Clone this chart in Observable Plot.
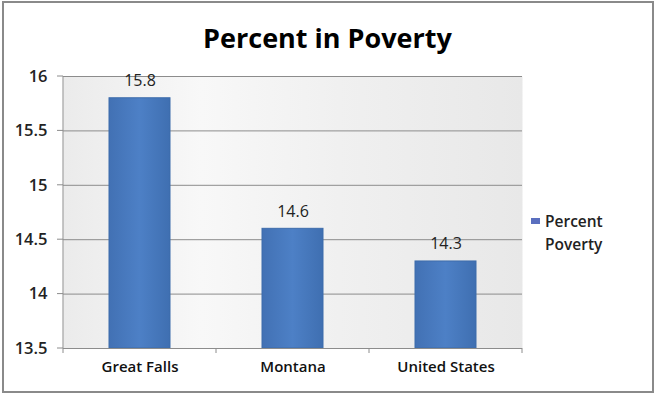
<!DOCTYPE html>
<html><head><meta charset="utf-8">
<script src="https://cdn.jsdelivr.net/npm/d3@7"></script>
<script src="https://cdn.jsdelivr.net/npm/@observablehq/plot@0.6"></script>
<style>
body{margin:0;background:#fff;}
#wrap{position:relative;width:655px;height:393px;overflow:hidden;font-family:"Open Sans",Lato,sans-serif;}
#title{height:60px;line-height:76px;text-align:center;font-weight:700;font-size:27px;color:#000;}
#border{position:absolute;left:2px;top:1px;width:648px;height:388px;border:2px solid #8a8a8a;pointer-events:none;}
#legend{position:absolute;left:531px;top:210px;font-size:15.5px;font-weight:600;color:#222;line-height:23px;}
#legend .sw{display:inline-block;width:9px;height:6px;background:#5a6fbf;margin-right:5px;vertical-align:3px;}
</style></head>
<body>
<div id="wrap"><div id="title"></div><div id="chart"></div><div id="legend"></div><div id="border"></div></div>
<script>
const titleText = "Percent in Poverty";
const seriesName = "Percent Poverty";
const categories = ["Great Falls", "Montana", "United States"];
const values = [15.8, 14.6, 14.3];
const yTicks = [13.5, 14, 14.5, 15, 15.5, 16];

document.getElementById("title").textContent = titleText;
const [w1, w2] = seriesName.split(" ");
document.getElementById("legend").innerHTML = '<span class="sw"></span>' + w1 + '<br><span style="margin-left:14px">' + w2 + '</span>';

const data = categories.map((c, i) => ({category: c, value: values[i]}));

const W = 655, H = 333, mL = 63, mR = 133;
const step = (W - mL - mR) / categories.length;

const chart = Plot.plot({
  width: W, height: H,
  marginLeft: mL, marginRight: mR, marginTop: 16, marginBottom: 45,
  style: {fontFamily: "'Open Sans', Lato, sans-serif", background: "transparent"},
  x: {domain: categories, paddingInner: 0.6, paddingOuter: 0.3, label: null, tickSize: 0, tickPadding: 13},
  y: {domain: [13.5, 16], ticks: yTicks, label: null, tickSize: 0, tickPadding: 16, tickFormat: d => String(d)},
  marks: [
    Plot.frame({fill: "url(#bggrad)", stroke: null}),
    Plot.ruleY(yTicks, {stroke: "#8c8c8c", strokeWidth: 1}),
    Plot.barY(data, {x: "category", y1: 13.5, y2: "value", fill: "url(#bargrad)", stroke: "#3d6cab", strokeWidth: 1}),
    Plot.text(data, {x: "category", y: "value", text: d => String(d.value), dy: -12, lineAnchor: "bottom", fontSize: 16, fill: "#222"}),
    Plot.ruleY([13.5], {stroke: "#8c8c8c"})
  ]
});

chart.querySelectorAll("g[aria-label='y-axis tick label'] text").forEach(t => {t.setAttribute("font-size", "16.5"); t.setAttribute("font-weight", "600"); t.setAttribute("fill", "#222");});
chart.querySelectorAll("g[aria-label='x-axis tick label'] text").forEach(t => {t.setAttribute("font-size", "15"); t.setAttribute("font-weight", "600"); t.setAttribute("fill", "#111");});

const ns = "http://www.w3.org/2000/svg";
const defs = document.createElementNS(ns, "defs");
defs.innerHTML = `
<linearGradient id="bggrad" x1="0" x2="1" y1="0" y2="0">
  <stop offset="0" stop-color="#ebebeb"/><stop offset="0.3" stop-color="#f8f8f8"/>
  <stop offset="0.6" stop-color="#f0f0f0"/><stop offset="1" stop-color="#e8e8e8"/>
</linearGradient>
<linearGradient id="bargrad" x1="0" x2="1" y1="0" y2="0">
  <stop offset="0" stop-color="#4271b4"/><stop offset="0.5" stop-color="#4d80c6"/><stop offset="1" stop-color="#3f6fb1"/>
</linearGradient>`;
chart.insertBefore(defs, chart.firstChild);

const yTop = 16, yBot = H - 45;
const g = document.createElementNS(ns, "g");
g.setAttribute("stroke", "#8c8c8c");
let s = `<line x1="${mL}" x2="${mL}" y1="${yTop}" y2="${yBot}"/>`;
const yScale = chart.scale("y");
yTicks.forEach(v => { const yy = yScale.apply(v); s += `<line x1="${mL-6}" x2="${mL}" y1="${yy}" y2="${yy}"/>`; });
for (let i = 0; i <= categories.length; i++) { const xx = mL + i * step; s += `<line x1="${xx}" x2="${xx}" y1="${yBot}" y2="${yBot+5}"/>`; }
g.innerHTML = s;
chart.appendChild(g);

document.getElementById("chart").appendChild(chart);
</script>
</body></html>
